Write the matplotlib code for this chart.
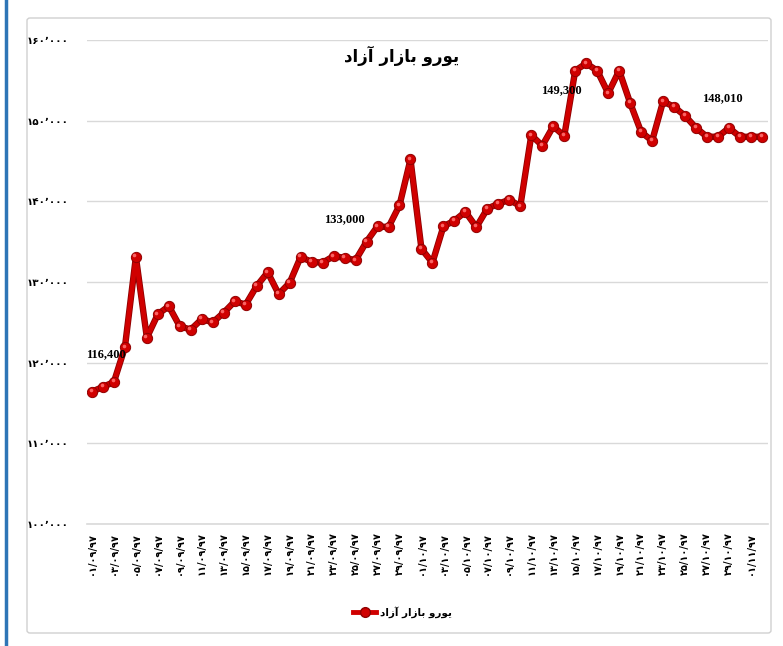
import matplotlib
matplotlib.use('Agg')
import matplotlib.pyplot as plt
from matplotlib.lines import Line2D
from matplotlib.patches import FancyBboxPatch
import matplotlib.transforms as mtransforms

# ---------------- data ----------------
values = [116400, 117000, 117600, 121900, 133100, 123100, 126000, 127000, 124500, 124100,
          125400, 125000, 126200, 127600, 127200, 129500, 131200, 128500, 129900, 133100,
          132500, 132400, 133200, 133000, 132700, 135000, 136900, 136800, 139500, 145200,
          134100, 132400, 136900, 137600, 138700, 136800, 139100, 139700, 140200, 139400,
          148200, 146900, 149300, 148100, 156200, 157100, 156200, 153400, 156200, 152200,
          148600, 147500, 152400, 151700, 150600, 149100, 148000, 148010, 149100, 148000,
          148000, 148000]

tick_labels = ["۰۱/۰۹/۹۷", "۰۳/۰۹/۹۷", "۰۵/۰۹/۹۷", "۰۷/۰۹/۹۷", "۰۹/۰۹/۹۷", "۱۱/۰۹/۹۷",
               "۱۳/۰۹/۹۷", "۱۵/۰۹/۹۷", "۱۷/۰۹/۹۷", "۱۹/۰۹/۹۷", "۲۱/۰۹/۹۷", "۲۳/۰۹/۹۷",
               "۲۵/۰۹/۹۷", "۲۷/۰۹/۹۷", "۲۹/۰۹/۹۷", "۰۱/۱۰/۹۷", "۰۳/۱۰/۹۷", "۰۵/۱۰/۹۷",
               "۰۷/۱۰/۹۷", "۰۹/۱۰/۹۷", "۱۱/۱۰/۹۷", "۱۳/۱۰/۹۷", "۱۵/۱۰/۹۷", "۱۷/۱۰/۹۷",
               "۱۹/۱۰/۹۷", "۲۱/۱۰/۹۷", "۲۳/۱۰/۹۷", "۲۵/۱۰/۹۷", "۲۷/۱۰/۹۷", "۲۹/۱۰/۹۷",
               "۰۱/۱۱/۹۷"]

y_ticks = [100000, 110000, 120000, 130000, 140000, 150000, 160000]
y_tick_labels = ["۱۰۰٬۰۰۰", "۱۱۰٬۰۰۰", "۱۲۰٬۰۰۰", "۱۳۰٬۰۰۰", "۱۴۰٬۰۰۰", "۱۵۰٬۰۰۰", "۱۶۰٬۰۰۰"]

label_idx = [0, 23, 42, 57]
label_text = ["116,400", "133,000", "149,300", "148,010"]

# "یورو بازار آزاد" in shaped presentation forms, visual order
title_text = "ﺩﺍﺯﺁ ﺭﺍﺯﺎﺑ ﻭﺭﻮﻳ"

# ---------------- styles ----------------
label_offsets = [(10, 27), (0, 28), (6, 26), (3, 28)]  # points
RED = '#D00000'

fig = plt.figure(figsize=(7.83, 6.46), dpi=100)
fig.patch.set_facecolor('white')

# chart border
fig.patches.append(FancyBboxPatch((27/783, 13/646), (771-27)/783, (628-13)/646,
                                  boxstyle="round,pad=0,rounding_size=0.004",
                                  transform=fig.transFigure, fill=False,
                                  edgecolor='#D0D0D0', linewidth=1.0))
# blue left edge line
fig.add_artist(Line2D([6/783, 6/783], [0, 1], transform=fig.transFigure,
                      color='#2E75B6', linewidth=2.5))

ax = fig.add_axes([87/783, 1-524/646, (768-87)/783, (524-40)/646])
x = list(range(len(values)))

ax.plot(x, values, color='#8E0000', linewidth=4.6, solid_capstyle='round', zorder=2)
ax.plot(x, values, color=RED, linewidth=3.4, solid_capstyle='round', zorder=3)
ax.plot(x, values, linestyle='none', marker='o', markersize=7.4,
        markerfacecolor=RED, markeredgecolor='#900000', markeredgewidth=0.7, zorder=4)
hl = mtransforms.offset_copy(ax.transData, fig=fig, x=-1.0, y=1.2, units='points')
ax.plot(x, values, linestyle='none', marker='o', markersize=2.6, transform=hl,
        markerfacecolor='#FF7070', markeredgewidth=0, alpha=0.9, zorder=5)

for i, t, off in zip(label_idx, label_text, label_offsets):
    ax.annotate(t, (x[i], values[i]), xytext=off, textcoords='offset points',
                ha='center', va='center', fontsize=9, fontweight='bold',
                family='Liberation Serif', color='black', zorder=6)

ax.set_ylim(100000, 160000)
ax.set_xlim(-0.45, len(values) - 0.45)
ax.set_yticks(y_ticks)
ax.set_yticklabels(y_tick_labels, fontsize=7.5, fontweight='bold', family='DejaVu Sans')
ax.set_xticks(x[::2])
ax.set_xticklabels(tick_labels, rotation=90, fontsize=7, fontweight='bold',
                   family='DejaVu Sans', va='top', ha='center')
ax.tick_params(axis='y', length=0, pad=13)
ax.tick_params(axis='x', length=0, pad=6)
ax.grid(axis='y', color='#D9D9D9', linewidth=1.0)
ax.axhline(100000, color='#D9D9D9', linewidth=1.2, clip_on=False, zorder=1)
ax.set_axisbelow(True)
for s in ax.spines.values():
    s.set_visible(False)

fig.text(402/783, 1-56/646, title_text, ha='center', va='center', fontsize=12,
         fontweight='heavy', family='DejaVu Sans', color='black')

handle = Line2D([], [], color=RED, linewidth=3.5, marker='o', markersize=7,
                markerfacecolor=RED, markeredgecolor='#900000')
leg = fig.legend([handle], [title_text], loc='center', bbox_to_anchor=(402/783, 1-612/646),
                 frameon=False, prop={'family': 'DejaVu Sans', 'weight': 'bold', 'size': 7.5},
                 handlelength=2.3, handletextpad=0.3)

fig.savefig('out.png', dpi=100)
